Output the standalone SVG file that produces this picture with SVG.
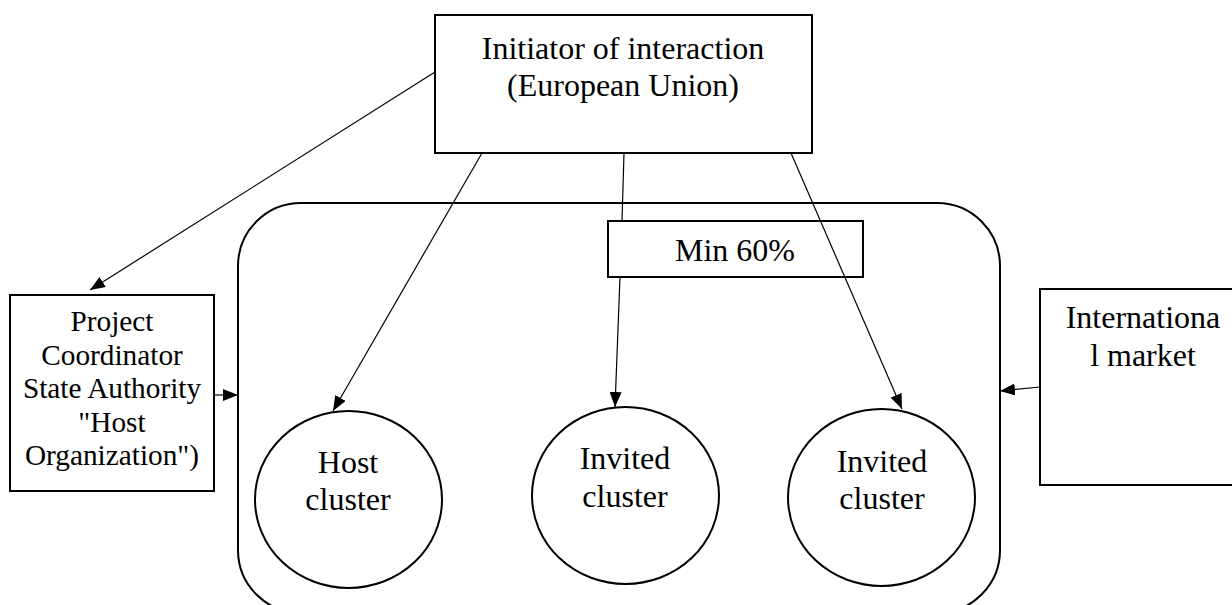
<svg xmlns="http://www.w3.org/2000/svg" width="1232" height="605" viewBox="0 0 1232 605">
  <style>
    .box { fill: #ffffff; stroke: #000000; stroke-width: 2; }
    .conn { fill: none; stroke: #000000; stroke-width: 1.2; }
    text { font-family: 'Liberation Serif', 'Times New Roman', Times, 'DejaVu Serif', serif; fill: #000000; text-anchor: middle; }
    .t32 { font-size: 32px; }
    .t29 { font-size: 29.3px; }
  </style>
  <defs>
    <marker id="arrow" viewBox="0 0 15 12" refX="15" refY="6" markerWidth="15" markerHeight="12" markerUnits="userSpaceOnUse" orient="auto">
      <path d="M0,0 L15,6 L0,12 Z" fill="#000000"/>
    </marker>
  </defs>
  <rect width="1232" height="605" fill="#ffffff"/>

  <g id="container">
    <rect class="box" x="238" y="203" width="762" height="410" rx="63" ry="63"/>
  </g>

  <g id="initiator">
    <rect class="box" x="435" y="15" width="377" height="138"/>
    <text class="t32" x="623" y="59">Initiator of interaction</text>
    <text class="t32" x="623" y="96">(European Union)</text>
  </g>

  <g id="min60">
    <rect class="box" x="608" y="221" width="255" height="56"/>
    <text class="t32" x="735" y="261">Min 60%</text>
  </g>

  <g id="coordinator">
    <rect class="box" x="10" y="295" width="204" height="196"/>
    <text class="t29" x="112" y="331">Project</text>
    <text class="t29" x="112" y="364.5">Coordinator</text>
    <text class="t29" x="112" y="398">State Authority</text>
    <text class="t29" x="112" y="431.5">"Host</text>
    <text class="t29" x="112" y="465">Organization")</text>
  </g>

  <g id="market">
    <rect class="box" x="1040" y="289" width="200" height="196"/>
    <text class="t32" x="1143" y="328">Internationa</text>
    <text class="t32" x="1143" y="366">l market</text>
  </g>

  <g id="host-cluster">
    <ellipse class="box" cx="348.5" cy="499.5" rx="93.5" ry="88.5"/>
    <text class="t32" x="348" y="473">Host</text>
    <text class="t32" x="348" y="510">cluster</text>
  </g>

  <g id="invited-cluster-1">
    <ellipse class="box" cx="625.5" cy="495.5" rx="93.5" ry="88.5"/>
    <text class="t32" x="625" y="469">Invited</text>
    <text class="t32" x="625" y="507">cluster</text>
  </g>

  <g id="invited-cluster-2">
    <ellipse class="box" cx="881.5" cy="497.5" rx="93.5" ry="88.5"/>
    <text class="t32" x="882" y="472">Invited</text>
    <text class="t32" x="882" y="509">cluster</text>
  </g>

  <g id="connectors">
    <line class="conn" x1="435" y1="72" x2="90" y2="290" marker-end="url(#arrow)"/>
    <line class="conn" x1="482" y1="153" x2="333" y2="411" marker-end="url(#arrow)"/>
    <line class="conn" x1="624" y1="153" x2="622" y2="221"/>
    <line class="conn" x1="620" y1="277" x2="615" y2="407" marker-end="url(#arrow)"/>
    <line class="conn" x1="791" y1="153" x2="902" y2="409" marker-end="url(#arrow)"/>
    <line class="conn" x1="214" y1="395" x2="238" y2="395" marker-end="url(#arrow)"/>
    <line class="conn" x1="1040" y1="387" x2="1000" y2="391" marker-end="url(#arrow)"/>
  </g>
</svg>
